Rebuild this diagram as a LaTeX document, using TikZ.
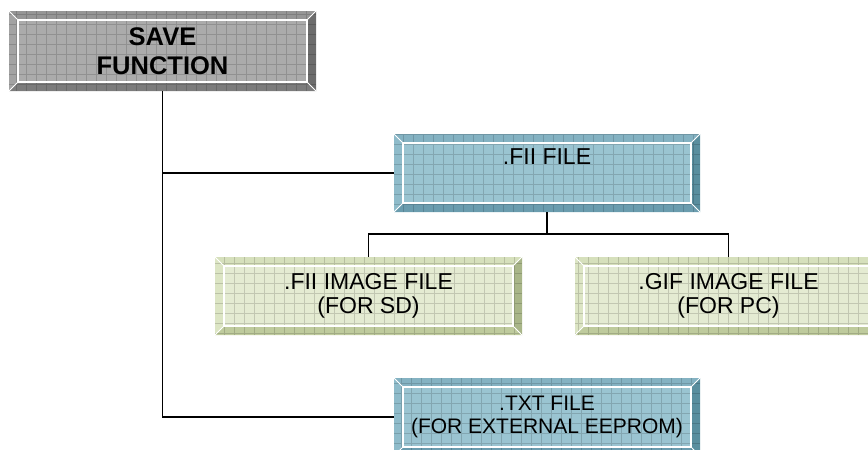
\documentclass[tikz,border=0pt]{standalone}
\usepackage{fontspec}
\setmainfont{Liberation Sans}
\definecolor{gface}{HTML}{ABABAB}
\definecolor{gtop}{HTML}{969696}
\definecolor{gleft}{HTML}{A3A3A3}
\definecolor{gright}{HTML}{6C6C6C}
\definecolor{gbot}{HTML}{7C7C7C}
\definecolor{bface}{HTML}{9AC4D1}
\definecolor{btop}{HTML}{84B2C2}
\definecolor{bleft}{HTML}{8EBBCA}
\definecolor{bright}{HTML}{5A8E9E}
\definecolor{bbot}{HTML}{6A9CAE}
\definecolor{eface}{HTML}{E4EBD2}
\definecolor{etop}{HTML}{D6E0BC}
\definecolor{eleft}{HTML}{DCE5C4}
\definecolor{eright}{HTML}{A9B689}
\definecolor{ebot}{HTML}{BFCB9D}
\tikzset{
  bevelbox/.style={rectangle, inner sep=0pt, outer sep=0pt, align=center,
    minimum width=307pt, minimum height=78pt, text=black,
    path picture={
      \coordinate (ppSW) at (path picture bounding box.south west);
      \coordinate (ppNE) at (path picture bounding box.north east);
      \coordinate (ppTL) at (ppSW |- ppNE);
      \coordinate (ppBR) at (ppNE |- ppSW);
      \coordinate (iSW) at ([shift={(9pt,9pt)}]ppSW);
      \coordinate (iNE) at ([shift={(-9pt,-9pt)}]ppNE);
      \coordinate (iTL) at ([shift={(9pt,-9pt)}]ppTL);
      \coordinate (iBR) at ([shift={(-9pt,9pt)}]ppBR);
      \fill[#1face] (ppSW) rectangle (ppNE);
      \fill[#1top] (ppTL) -- (ppNE) -- (iNE) -- (iTL) -- cycle;
      \fill[#1bot] (ppSW) -- (ppBR) -- (iBR) -- (iSW) -- cycle;
      \fill[#1left] (ppSW) -- (ppTL) -- (iTL) -- (iSW) -- cycle;
      \fill[#1right] (ppBR) -- (ppNE) -- (iNE) -- (iBR) -- cycle;
      \draw[black, opacity=0.15, line width=0.7pt, step=10pt] (ppSW) grid (ppNE);
      \draw[white, line width=1.2pt] (iSW) rectangle (iNE);
      \draw[white, line width=1pt] (ppSW) -- (iSW) (ppTL) -- (iTL) (ppNE) -- (iNE) (ppBR) -- (iBR);
    }},
  conn/.style={draw=black, line width=1.7pt}
}
\begin{document}
\begin{tikzpicture}
\useasboundingbox (0,0) rectangle (868pt,-450pt);
\clip (0,0) rectangle (868pt,-450pt);
\node[bevelbox=g, minimum height=80pt, font=\bfseries\fontsize{25.5}{29.5}\selectfont] (save) at (162.5pt,-51pt) {SAVE\\FUNCTION};
\node[bevelbox=b, minimum width=306pt, font=\fontsize{23}{25}\selectfont, text height=16pt, text depth=34pt] (fii) at (547pt,-173pt) {.FII FILE};
\node[bevelbox=e, font=\fontsize{23}{23.5}\selectfont] (fiiimg) at (368.5pt,-296pt) {.FII IMAGE FILE\\(FOR SD)};
\node[bevelbox=e, font=\fontsize{23}{23.5}\selectfont] (gif) at (728.5pt,-296pt) {.GIF IMAGE FILE\\(FOR PC)};
\node[bevelbox=b, minimum width=306pt, font=\fontsize{21}{23}\selectfont] (txt) at (547pt,-417pt) {.TXT FILE\\(FOR EXTERNAL EEPROM)};
\coordinate (j) at (547pt,-234pt);
\draw[conn] (save.south) -- (save.south |- txt.west) -- (txt.west);
\draw[conn] (save.south |- fii.west) -- (fii.west);
\draw[conn] (fii.south) -- (j);
\draw[conn] (fiiimg.north) |- (j) -| (gif.north);
\end{tikzpicture}
\end{document}
